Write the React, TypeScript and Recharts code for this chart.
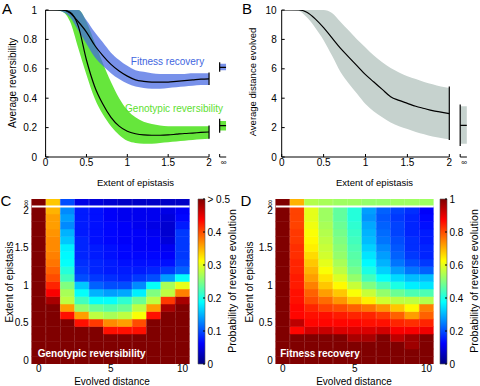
import React from 'react';
import { ComposedChart, Area, Line, XAxis, YAxis, ReferenceLine, BarChart, Bar, Cell } from 'recharts';

// ---------- panels A and B: values against extent of epistasis ----------
const EPI_X = [0, 0.1, 0.2, 0.3, 0.4, 0.5, 0.6, 0.7, 0.8, 0.9, 1, 1.1, 1.2, 1.3, 1.4, 1.5, 1.6, 1.7, 1.8, 1.9, 2];

const FIT_MEAN = [1, 1, 1, 0.98, 0.92, 0.85, 0.76, 0.69, 0.63, 0.585, 0.55, 0.525, 0.515, 0.51, 0.51, 0.51, 0.515, 0.52, 0.525, 0.53, 0.532];
const FIT_LO = [1, 1, 0.99, 0.95, 0.86, 0.77, 0.68, 0.62, 0.57, 0.53, 0.5, 0.48, 0.47, 0.465, 0.465, 0.47, 0.475, 0.48, 0.485, 0.49, 0.49];
const FIT_HI = [1, 1, 1, 1, 1, 0.93, 0.85, 0.78, 0.71, 0.66, 0.62, 0.59, 0.58, 0.57, 0.565, 0.565, 0.565, 0.565, 0.57, 0.57, 0.57];

const GENO_MEAN = [1, 1, 1, 0.985, 0.89, 0.66, 0.48, 0.36, 0.27, 0.21, 0.175, 0.158, 0.15, 0.148, 0.148, 0.15, 0.155, 0.16, 0.163, 0.167, 0.17];
const GENO_LO = [1, 1, 0.99, 0.92, 0.74, 0.56, 0.4, 0.29, 0.21, 0.15, 0.11, 0.095, 0.09, 0.09, 0.095, 0.1, 0.105, 0.11, 0.115, 0.12, 0.125];
const GENO_HI = [1, 1, 1, 1, 1, 0.92, 0.78, 0.64, 0.51, 0.4, 0.32, 0.27, 0.24, 0.225, 0.215, 0.21, 0.21, 0.21, 0.21, 0.21, 0.21];

const DIST_MEAN = [10, 10, 10, 9.85, 9.4, 8.8, 8.1, 7.4, 6.8, 6.2, 5.6, 5.1, 4.6, 4.1, 3.85, 3.65, 3.45, 3.3, 3.15, 3.05, 2.95];
const DIST_LO = [10, 10, 9.95, 9.5, 8.8, 7.95, 6.9, 5.8, 5.0, 4.3, 3.6, 3.1, 2.7, 2.35, 2.1, 1.9, 1.7, 1.55, 1.4, 1.3, 1.2];
const DIST_HI = [10, 10, 10, 10, 10, 10, 9.8, 9.2, 8.6, 8.0, 7.45, 6.9, 6.45, 6.05, 5.75, 5.5, 5.3, 5.1, 4.95, 4.8, 4.7];

// infinite epistasis: [band low, mean, band high]; vertical bars [low, high]
const FIT_INF = [0.59, 0.61, 0.635];
const FIT_INF_BAR = [0.58, 0.645];
const FIT_BAR_2 = [0.49, 0.575];
const GENO_INF = [0.18, 0.213, 0.245];
const GENO_INF_BAR = [0.165, 0.26];
const GENO_BAR_2 = [0.125, 0.215];
const DIST_INF = [0.9, 2.15, 3.45];
const DIST_INF_BAR = [0.75, 3.57];
const DIST_BAR_2 = [1.15, 4.8];

const EPI_TICKS = [0, 0.5, 1, 1.5, 2];
const A_TICKS = [0, 0.2, 0.4, 0.6, 0.8, 1];
const B_TICKS = [0, 2, 4, 6, 8, 10];

// broken axis: where the ∞ column sits
const INF_START = 2.13;
const INF_END = 2.21;

// ---------- panels C and D: heatmaps ----------
const DISTANCES = [0, 1, 2, 3, 4, 5, 6, 7, 8, 9, 10];
const ROW_H = 0.1;
const GENO_CB_TICKS = [0, 0.1, 0.2, 0.3, 0.4, 0.5];
const FIT_CB_TICKS = [0, 0.2, 0.4, 0.6, 0.8, 1];

// rows listed top first: ∞, 2, 1.9, ... 0
const GENO_PROB = [
  [0.55, 0.34, 0.1, 0.05, 0.045, 0.04, 0.035, 0.035, 0.035, 0.035, 0.035],
  [0.55, 0.35, 0.13, 0.075, 0.07, 0.06, 0.055, 0.055, 0.055, 0.05, 0.06],
  [0.55, 0.36, 0.14, 0.075, 0.07, 0.06, 0.055, 0.055, 0.055, 0.045, 0.065],
  [0.55, 0.36, 0.13, 0.075, 0.07, 0.065, 0.06, 0.055, 0.05, 0.04, 0.075],
  [0.55, 0.365, 0.15, 0.075, 0.07, 0.065, 0.06, 0.06, 0.055, 0.04, 0.09],
  [0.55, 0.37, 0.16, 0.08, 0.07, 0.065, 0.06, 0.06, 0.06, 0.045, 0.09],
  [0.55, 0.37, 0.18, 0.08, 0.075, 0.07, 0.065, 0.06, 0.06, 0.055, 0.09],
  [0.55, 0.375, 0.185, 0.08, 0.075, 0.07, 0.065, 0.065, 0.065, 0.06, 0.09],
  [0.55, 0.38, 0.19, 0.085, 0.08, 0.075, 0.07, 0.07, 0.07, 0.07, 0.095],
  [0.55, 0.39, 0.205, 0.09, 0.08, 0.075, 0.075, 0.075, 0.08, 0.09, 0.11],
  [0.55, 0.4, 0.22, 0.1, 0.09, 0.085, 0.08, 0.09, 0.1, 0.14, 0.19],
  [0.55, 0.42, 0.25, 0.16, 0.11, 0.1, 0.1, 0.13, 0.19, 0.27, 0.3],
  [0.55, 0.44, 0.27, 0.19, 0.15, 0.14, 0.145, 0.18, 0.25, 0.28, 0.375],
  [0.55, 0.48, 0.28, 0.22, 0.19, 0.19, 0.21, 0.24, 0.28, 0.41, 0.48],
  [0.55, 0.55, 0.36, 0.26, 0.24, 0.23, 0.24, 0.28, 0.36, 0.48, 0.55],
  [0.55, 0.55, 0.43, 0.36, 0.28, 0.27, 0.28, 0.31, 0.43, 0.55, 0.55],
  [0.55, 0.55, 0.55, 0.43, 0.41, 0.37, 0.36, 0.4, 0.55, 0.55, 0.55],
  [0.55, 0.55, 0.55, 0.55, 0.55, 0.43, 0.43, 0.43, 0.55, 0.55, 0.55],
  [0.55, 0.55, 0.55, 0.55, 0.55, 0.55, 0.55, 0.55, 0.55, 0.55, 0.55],
  [0.55, 0.55, 0.55, 0.55, 0.55, 0.55, 0.55, 0.55, 0.55, 0.55, 0.55],
  [0.55, 0.55, 0.55, 0.55, 0.55, 0.55, 0.55, 0.55, 0.55, 0.55, 0.55],
  [0.55, 0.55, 0.55, 0.55, 0.55, 0.55, 0.55, 0.55, 0.55, 0.55, 0.55],
];

const FIT_PROB = [
  [1, 0.7, 0.55, 0.54, 0.53, 0.53, 0.52, 0.52, 0.53, 0.53, 0.53],
  [1, 0.81, 0.6, 0.53, 0.47, 0.41, 0.28, 0.22, 0.19, 0.17, 0.12],
  [1, 0.81, 0.6, 0.53, 0.47, 0.41, 0.27, 0.21, 0.18, 0.16, 0.13],
  [1, 0.81, 0.61, 0.54, 0.48, 0.42, 0.29, 0.22, 0.19, 0.16, 0.14],
  [1, 0.82, 0.62, 0.55, 0.49, 0.43, 0.3, 0.23, 0.19, 0.16, 0.15],
  [1, 0.82, 0.63, 0.56, 0.5, 0.44, 0.31, 0.24, 0.2, 0.17, 0.15],
  [1, 0.83, 0.64, 0.57, 0.51, 0.45, 0.33, 0.26, 0.21, 0.17, 0.16],
  [1, 0.83, 0.66, 0.58, 0.52, 0.46, 0.35, 0.28, 0.22, 0.18, 0.16],
  [1, 0.84, 0.68, 0.6, 0.54, 0.47, 0.37, 0.3, 0.24, 0.2, 0.18],
  [1, 0.84, 0.7, 0.62, 0.56, 0.49, 0.4, 0.33, 0.28, 0.24, 0.22],
  [1, 0.85, 0.72, 0.65, 0.59, 0.52, 0.44, 0.38, 0.34, 0.31, 0.31],
  [1, 0.85, 0.75, 0.68, 0.63, 0.57, 0.5, 0.45, 0.4, 0.36, 0.35],
  [1, 0.86, 0.78, 0.72, 0.68, 0.62, 0.57, 0.52, 0.48, 0.45, 0.45],
  [1, 0.86, 0.8, 0.77, 0.73, 0.68, 0.64, 0.58, 0.56, 0.56, 0.55],
  [1, 0.87, 0.84, 0.81, 0.8, 0.78, 0.76, 0.73, 0.68, 0.63, 0.75],
  [1, 0.87, 0.86, 0.86, 0.85, 0.84, 0.84, 0.82, 0.78, 0.72, 0.78],
  [1, 0.94, 0.87, 0.87, 0.87, 0.87, 0.86, 0.86, 0.84, 0.83, 0.84],
  [1, 0.87, 0.92, 0.93, 0.91, 0.91, 0.91, 0.92, 0.88, 0.88, 0.89],
  [1, 1, 1, 1, 1, 0.96, 0.96, 1, 0.94, 0.97, 1],
  [1, 1, 1, 1, 1, 1, 1, 1, 1, 0.97, 1],
  [1, 1, 1, 1, 1, 1, 1, 1, 1, 1, 1],
  [1, 1, 1, 1, 1, 1, 1, 1, 1, 1, 1],
];

const FONT = '"Liberation Sans", Arial, Helvetica, sans-serif';

// matlab jet colormap
const jet = (f: number) => {
  const t = Math.max(0, Math.min(1, f));
  const c = (k: number) => Math.round(255 * Math.max(0, Math.min(1, 1.5 - Math.abs(4 * t - k))));
  return `rgb(${c(3)},${c(2)},${c(1)})`;
};
const JET_STOPS = [0, 0.125, 0.25, 0.375, 0.5, 0.625, 0.75, 0.875, 1];

const Txt = ({ x, y, text, size = 10, rotate = false, color = '#000', bold = false }: any) => (
  <div
    style={{
      position: 'absolute',
      left: x,
      top: y,
      transform: `translate(-50%, -50%)${rotate ? ' rotate(-90deg)' : ''}`,
      fontSize: size,
      color,
      fontWeight: bold ? 'bold' : 'normal',
      whiteSpace: 'nowrap',
      lineHeight: 1,
    }}
  >
    {text}
  </div>
);

const EpiTick = (props: any) => {
  const { x, y, payload } = props;
  const inf = payload.value > 2.05;
  return (
    <text x={inf ? x + 4 : x} y={y} dy="0.71em" textAnchor="middle" fontSize={inf ? 8 : 10} fill="#000">
      {inf ? '∞' : payload.value}
    </text>
  );
};

type Curve = {
  lo: number[]; hi: number[]; mean: number[];
  inf: number[]; infBar: number[]; bar2: number[];
  fill: string; opacity: number;
};

function EpiPanel({ left, yWidth, rightMargin, yMax, yTicks, tickMargin, curves }: any) {
  const inner = yTicks.slice(1, -1);
  return (
    <div style={{ position: 'absolute', left, top: 0 }}>
      <ComposedChart width={240} height={190} margin={{ top: 10, right: rightMargin, bottom: 0, left: 0 }}>
        <XAxis type="number" dataKey="x" domain={[0, INF_END]} ticks={[...EPI_TICKS, INF_START]} interval={0} allowDataOverflow
          axisLine={false} tickSize={-3} tickMargin={5} stroke="#000" height={33} tick={(p: any) => <EpiTick {...p} />} />
        <XAxis xAxisId="top" orientation="top" type="number" domain={[0, INF_END]} ticks={EPI_TICKS.slice(1)} interval={0} allowDataOverflow
          height={0} tickSize={-3} tick={false} stroke="#000" />
        <YAxis type="number" domain={[0, yMax]} ticks={yTicks} interval={0} allowDataOverflow width={yWidth}
          tickSize={-3} tickMargin={tickMargin} stroke="#000" tick={{ fontSize: 10, fill: '#000' }} />
        <YAxis yAxisId="right" orientation="right" type="number" domain={[0, yMax]} ticks={inner} interval={0} allowDataOverflow
          width={0} tickSize={-3} tick={false} stroke="#000" />
        {curves.map((c: Curve, k: number) => (
          <Area key={'band' + k} data={EPI_X.map((x, i) => ({ x, band: [c.lo[i], c.hi[i]] }))} dataKey="band"
            type="monotone" fill={c.fill} fillOpacity={c.opacity} stroke="none" isAnimationActive={false} />
        ))}
        {curves.map((c: Curve, k: number) => (
          <Area key={'inf' + k} data={[{ x: INF_START, band: [c.inf[0], c.inf[2]] }, { x: INF_END, band: [c.inf[0], c.inf[2]] }]}
            dataKey="band" fill={c.fill} fillOpacity={c.opacity} stroke="none" isAnimationActive={false} />
        ))}
        {curves.map((c: Curve, k: number) => (
          <Line key={'mean' + k} data={EPI_X.map((x, i) => ({ x, mean: c.mean[i] }))} dataKey="mean" type="monotone"
            stroke="#000" strokeWidth={1.2} dot={false} isAnimationActive={false} />
        ))}
        {curves.map((c: Curve, k: number) => (
          <Line key={'infmean' + k} data={[{ x: INF_START, mean: c.inf[1] }, { x: INF_END, mean: c.inf[1] }]} dataKey="mean"
            stroke="#000" strokeWidth={1.2} dot={false} isAnimationActive={false} />
        ))}
        {curves.map((c: Curve, k: number) => (
          <ReferenceLine key={'b2' + k} segment={[{ x: 2, y: c.bar2[0] }, { x: 2, y: c.bar2[1] }]} stroke="#000" strokeWidth={1.2} />
        ))}
        {curves.map((c: Curve, k: number) => (
          <ReferenceLine key={'bi' + k} segment={[{ x: INF_START, y: c.infBar[0] }, { x: INF_START, y: c.infBar[1] }]} stroke="#000" strokeWidth={1.2} />
        ))}
        <ReferenceLine segment={[{ x: 0, y: 0 }, { x: 2, y: 0 }]} stroke="#000" />
        <ReferenceLine segment={[{ x: INF_START, y: 0 }, { x: INF_END, y: 0 }]} stroke="#000" />
      </ComposedChart>
    </div>
  );
}

const RowTick = (props: any) => {
  const { x, y, payload } = props;
  if (payload.value > EPI_X.length * ROW_H) {
    return (
      <text transform={`translate(${x - 3},${y}) rotate(-90)`} textAnchor="middle" dy="0.35em" fontSize={9} fill="#000">∞</text>
    );
  }
  return (
    <text x={x} y={y} dy="0.35em" textAnchor="end" fontSize={10} fill="#000">
      {Math.round((payload.value - ROW_H / 2) * 10) / 10}
    </text>
  );
};

function HeatPanel({ left, yWidth, width, matrix, scaleMax }: any) {
  const rows = [...matrix].reverse();
  const data = DISTANCES.map((d) => {
    const o: any = { dist: d };
    rows.forEach((_: any, i: number) => (o['r' + i] = ROW_H));
    return o;
  });
  const ticks = [...EPI_TICKS.map((v) => v + ROW_H / 2), EPI_X.length * ROW_H + ROW_H / 2];
  return (
    <div style={{ position: 'absolute', left, top: 190 }}>
      <BarChart width={width} height={196} data={data} margin={{ top: 9, right: width - yWidth - 158, bottom: 0, left: 0 }}
        barCategoryGap={0} barGap={0}>
        <XAxis dataKey="dist" interval={4} tickLine={false} axisLine={false} tickSize={0} tickMargin={1} height={22}
          tick={{ fontSize: 10, fill: '#000' }} />
        <YAxis type="number" domain={[0, rows.length * ROW_H]} allowDataOverflow ticks={ticks} interval={0} width={yWidth}
          tickLine={false} axisLine={false} tickSize={0} tickMargin={3} tick={(p: any) => <RowTick {...p} />} />
        {rows.map((row: number[], i: number) => (
          <Bar key={i} dataKey={'r' + i} stackId="h" isAnimationActive={false}>
            {row.map((v, j) => (
              <Cell key={j} fill={jet(v / scaleMax)} stroke={jet(v / scaleMax)} strokeWidth={0.5} />
            ))}
          </Bar>
        ))}
        <ReferenceLine y={EPI_X.length * ROW_H} stroke="#fff" strokeWidth={2} />
      </BarChart>
    </div>
  );
}

function ColorBar({ left, id, max, ticks, fmt }: any) {
  return (
    <div style={{ position: 'absolute', left, top: 190 }}>
      <BarChart width={44} height={196} data={[{ k: 'c', top: max }]} margin={{ top: 9, right: 0, bottom: 22, left: 3 }}
        barCategoryGap={0}>
        <defs>
          <linearGradient id={id} x1="0" y1="1" x2="0" y2="0">
            {JET_STOPS.map((s) => (
              <stop key={s} offset={s} stopColor={jet(s)} />
            ))}
          </linearGradient>
        </defs>
        <XAxis dataKey="k" hide />
        <YAxis orientation="right" type="number" domain={[0, max]} ticks={ticks} interval={0} width={34} axisLine={false}
          tickSize={-2} tickMargin={4.5} stroke="#000" tick={{ fontSize: 10, fill: '#000' }} tickFormatter={fmt} />
        <Bar dataKey="top" fill={`url(#${id})`} stroke="#555" strokeWidth={0.6} isAnimationActive={false} />
      </BarChart>
    </div>
  );
}

export default function App() {
  const curvesA: Curve[] = [
    { lo: GENO_LO, hi: GENO_HI, mean: GENO_MEAN, inf: GENO_INF, infBar: GENO_INF_BAR, bar2: GENO_BAR_2, fill: '#66e63c', opacity: 1 },
    { lo: FIT_LO, hi: FIT_HI, mean: FIT_MEAN, inf: FIT_INF, infBar: FIT_INF_BAR, bar2: FIT_BAR_2, fill: '#4466e2', opacity: 0.72 },
  ];
  const curvesB: Curve[] = [
    { lo: DIST_LO, hi: DIST_HI, mean: DIST_MEAN, inf: DIST_INF, infBar: DIST_INF_BAR, bar2: DIST_BAR_2, fill: '#c6d2ce', opacity: 1 },
  ];
  return (
    <div style={{ position: 'absolute', left: 0, top: 0, width: 480, height: 386, background: '#fff', fontFamily: FONT, overflow: 'hidden' }}>
      <EpiPanel left={0} yWidth={45.6} rightMargin={13.8} yMax={1} yTicks={A_TICKS} tickMargin={11.5} curves={curvesA} />
      <EpiPanel left={240} yWidth={41.7} rightMargin={13.1} yMax={10} yTicks={B_TICKS} tickMargin={8} curves={curvesB} />
      <HeatPanel left={0} yWidth={31.7} width={195} matrix={GENO_PROB} scaleMax={0.5} />
      <HeatPanel left={240} yWidth={35.7} width={195} matrix={FIT_PROB} scaleMax={1} />
      <ColorBar left={195} id="jetC" max={0.5} ticks={GENO_CB_TICKS} fmt={(v: number) => (v >= 0.5 ? '> 0.5' : String(v))} />
      <ColorBar left={437} id="jetD" max={1} ticks={FIT_CB_TICKS} fmt={(v: number) => String(v)} />

      <Txt x={7} y={8} text="A" size={15} />
      <Txt x={247} y={8} text="B" size={15} />
      <Txt x={6} y={200} text="C" size={15} />
      <Txt x={246} y={200} text="D" size={15} />

      <Txt x={12.5} y={83} text="Average reversibility" rotate size={10} />
      <Txt x={135.5} y={182.5} text="Extent of epistasis" size={9.5} />
      <Txt x={167.5} y={62} text="Fitness recovery" size={10} color="#4266e0" />
      <Txt x={174} y={109} text="Genotypic reversibility" size={10} color="#5ee030" />

      <Txt x={252.5} y={82} text="Average distance evolved" rotate size={9.5} />
      <Txt x={374.5} y={182.5} text="Extent of epistasis" size={9.5} />

      <Txt x={9.5} y={282} text="Extent of epistasis" rotate size={10} />
      <Txt x={112} y={381.5} text="Evolved distance" size={10} />
      <Txt x={91.7} y={354} text="Genotypic reversibility" size={10} bold color="#fff" />
      <Txt x={232} y={281} text="Probability of reverse evolution" rotate size={10.5} />

      <Txt x={249.5} y={282} text="Extent of epistasis" rotate size={10} />
      <Txt x={354} y={381.5} text="Evolved distance" size={10} />
      <Txt x={320} y={354} text="Fitness recovery" size={10} bold color="#fff" />
      <Txt x={474} y={281} text="Probability of reverse evolution" rotate size={10.5} />
    </div>
  );
}
